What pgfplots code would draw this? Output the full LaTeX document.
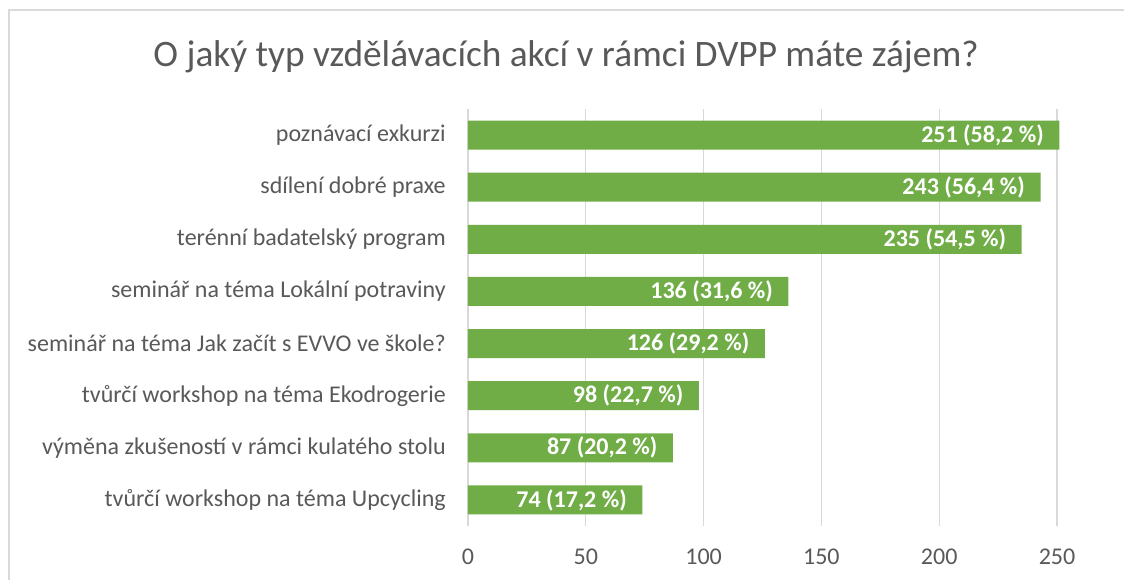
\documentclass[border=0pt]{standalone}
\usepackage{pgfplots}
\pgfplotsset{compat=1.18}
\usepackage{fontspec}
\setmainfont{Carlito}
\definecolor{txt}{HTML}{595959}
\definecolor{gridc}{HTML}{D9D9D9}
\definecolor{barc}{HTML}{70AD47}
\begin{document}
\begin{tikzpicture}[x=0.75pt,y=0.75pt]
\useasboundingbox (0,0) rectangle (1124,579);
\fill[white] (0,0) rectangle (1124,579);
\draw[gridc, line width=1.2pt] (9,-5) -- (9,569) -- (1130,569);
\node[txt, font=\fontsize{28}{32}\selectfont] at (566,522) {O jaký typ vzdělávacích akcí v rámci DVPP máte zájem?};
\begin{axis}[at={(351pt,39.75pt)}, anchor=south west, width=459.42pt, height=312.75pt, scale only axis,
 xbar, xmin=0, xmax=260, ymin=0.5, ymax=8.5, y dir=reverse,
 axis line style={draw=none},
 xmajorgrids, grid style={gridc, line width=0.9pt},
 xtick={0,50,...,250}, ytick={1,...,8},
 yticklabels={poznávací exkurzi, sdílení dobré praxe, terénní badatelský program, seminář na téma Lokální potraviny, seminář na téma Jak začít s EVVO ve škole?, tvůrčí workshop na téma Ekodrogerie, výměna zkušeností v rámci kulatého stolu, tvůrčí workshop na téma Upcycling},
 major tick length=0pt,
 /pgf/number format/assume math mode=true,
 tick label style={txt, font=\fontsize{18}{21}\selectfont},
 yticklabel style={inner sep=0pt, xshift=-16.5pt},
 xticklabel style={inner sep=0pt, yshift=-17pt},
 bar width=21.75pt,
 clip=false,
 nodes near coords, point meta=explicit symbolic,
 every node near coord/.append style={anchor=east, white, inner sep=0pt, font=\bfseries\fontsize{18}{21}\selectfont, xshift=-11.5pt},
]
\addplot[fill=barc, draw=none] coordinates {
(251,1) [251 (58,2 \%)]
(243,2) [243 (56,4 \%)]
(235,3) [235 (54,5 \%)]
(136,4) [136 (31,6 \%)]
(126,5) [126 (29,2 \%)]
(98,6) [98 (22,7 \%)]
(87,7) [87 (20,2 \%)]
(74,8) [74 (17,2 \%)]
};
\end{axis}
\end{tikzpicture}
\end{document}
